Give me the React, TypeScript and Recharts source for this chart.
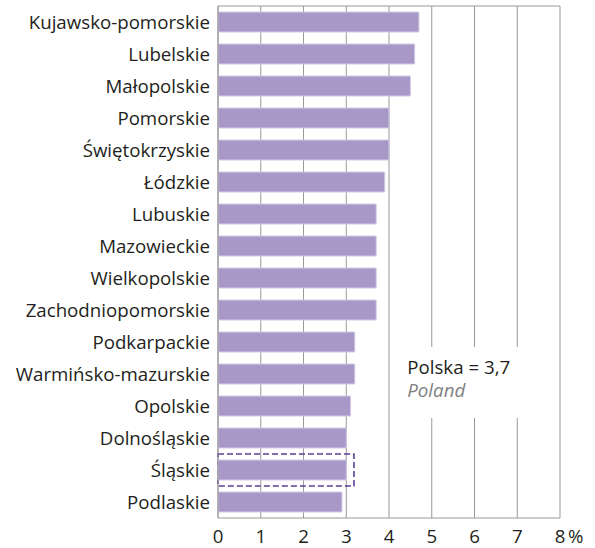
import React from 'react';
import { BarChart, Bar, XAxis, YAxis, CartesianGrid, ReferenceArea, ReferenceLine } from 'recharts';

const regions = [
  'Kujawsko-pomorskie',
  'Lubelskie',
  'Małopolskie',
  'Pomorskie',
  'Świętokrzyskie',
  'Łódzkie',
  'Lubuskie',
  'Mazowieckie',
  'Wielkopolskie',
  'Zachodniopomorskie',
  'Podkarpackie',
  'Warmińsko-mazurskie',
  'Opolskie',
  'Dolnośląskie',
  'Śląskie',
  'Podlaskie',
];
const values = [4.7, 4.6, 4.5, 4.0, 4.0, 3.9, 3.7, 3.7, 3.7, 3.7, 3.2, 3.2, 3.1, 3.0, 3.0, 2.9];
const xTicks = [0, 1, 2, 3, 4, 5, 6, 7, 8];
const polandValue = 3.7;
const highlighted = 'Śląskie';
const noteRow = 'Warmińsko-mazurskie';

const FONT = '"Open Sans", sans-serif';
const FS = 18.7;
const TEXT = '#231f20';
const GRID = '#999999';

const data = regions.map((name, i) => ({ name, value: values[i] }));

function XTick(props: any) {
  const { x, y, payload } = props;
  const last = payload.value === xTicks[xTicks.length - 1];
  return (
    <g>
      <text x={x} y={y} dy={17} textAnchor="middle" fontFamily={FONT} fontSize={FS} fill={TEXT}>
        {payload.value}
      </text>
      {last && (
        <text x={x + 8} y={y} dy={17} textAnchor="start" fontFamily={FONT} fontSize={FS} fill={TEXT}>
          %
        </text>
      )}
    </g>
  );
}

function NoteBox(props: any) {
  const { x, y, width, height } = props;
  return (
    <g>
      <rect x={x} y={y - 11} width={width} height={height + 39} fill="#ffffff" />
      <text x={x + 14} y={y + 15.5} fontFamily={FONT} fontSize={FS} fill={TEXT}>
        {`Polska = ${String(polandValue).replace('.', ',')}`}
      </text>
      <text x={x + 14} y={y + 39} fontFamily={FONT} fontSize={FS} fontStyle="italic" fill="#808080">
        Poland
      </text>
    </g>
  );
}

export default function App() {
  return (
    <div style={{ width: 595, height: 548 }}>
      <style>{'body{margin:0}'}</style>
      <BarChart
        width={595}
        height={548}
        data={data}
        layout="vertical"
        margin={{ top: 6, right: 35, bottom: 0, left: 0 }}
        barSize={20}
      >
        <CartesianGrid horizontal={false} vertical stroke={GRID} strokeWidth={1} />
        <XAxis
          type="number"
          domain={[0, 8]}
          ticks={xTicks}
          interval={0}
          height={30}
          axisLine={{ stroke: GRID }}
          tickLine={false}
          tick={<XTick />}
        />
        <YAxis
          type="category"
          dataKey="name"
          width={218}
          axisLine={{ stroke: GRID }}
          tickLine={false}
          tickSize={0}
          tickMargin={8}
          interval={0}
          tick={{ fontFamily: FONT, fontSize: FS, fill: TEXT }}
        />
        <ReferenceLine y={regions[0]} position="start" stroke={GRID} ifOverflow="visible" />
        <ReferenceArea
          x1={4.1}
          x2={7.85}
          y1={noteRow}
          y2={noteRow}
          ifOverflow="visible"
          shape={<NoteBox />}
        />
        <Bar dataKey="value" fill="#a898c8" stroke="#d3cae6" strokeWidth={1} isAnimationActive={false} />
        <ReferenceArea
          x1={0}
          x2={3.18}
          y1={highlighted}
          y2={highlighted}
          ifOverflow="visible"
          fill="none"
          fillOpacity={0}
          stroke="#5b3f96"
          strokeWidth={1.6}
          strokeDasharray="6 3"
        />
      </BarChart>
    </div>
  );
}
